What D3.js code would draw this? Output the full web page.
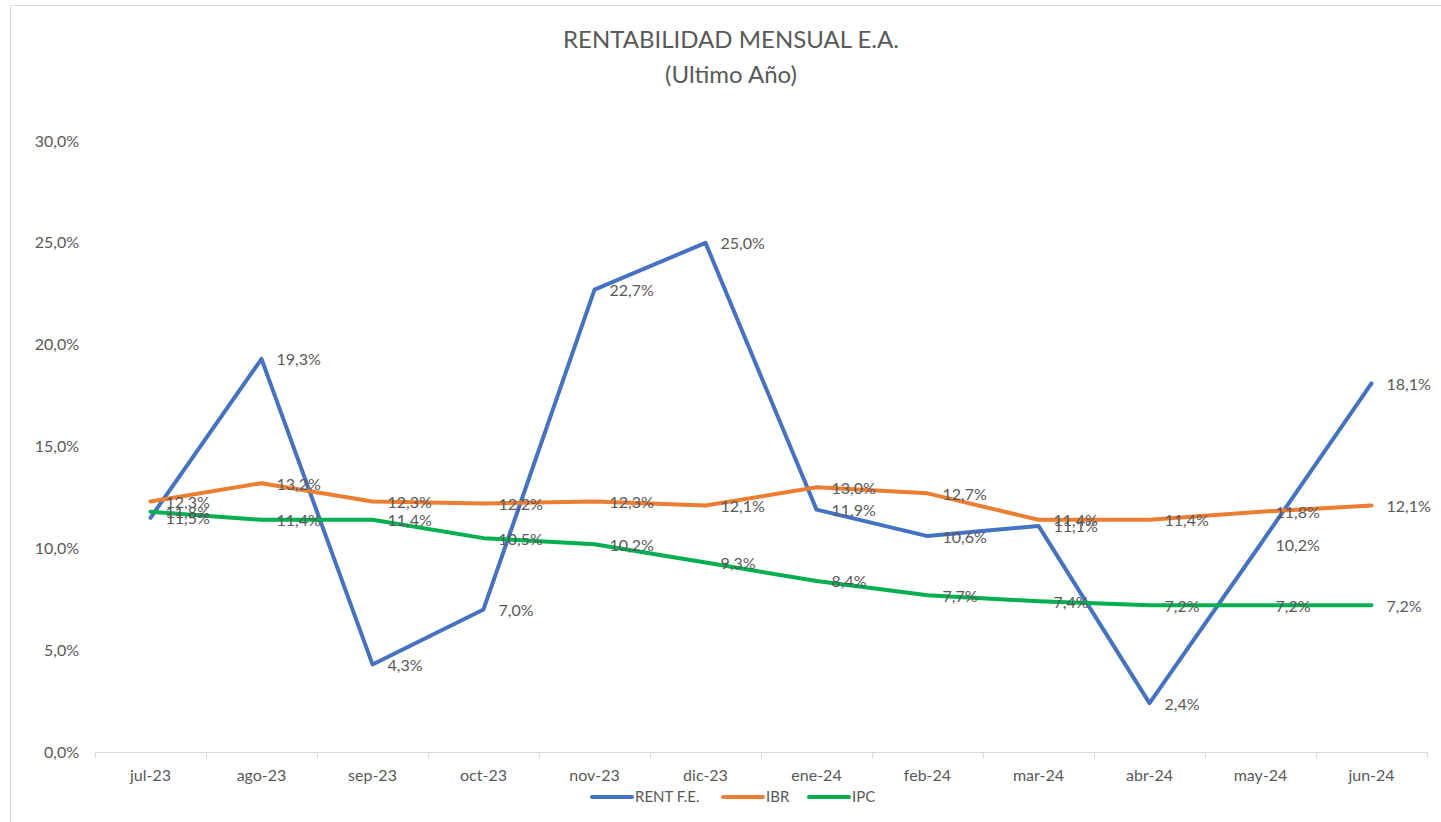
<!DOCTYPE html>
<html>
<head>
<meta charset="utf-8">
<script src="https://cdn.jsdelivr.net/npm/d3@7"></script>
<style>
  body { margin: 0; background: #fff; }
  text { font-family: Lato, "Open Sans", sans-serif; fill: #595959; }
</style>
</head>
<body>
<div id="chart"></div>
<script>
// chart data
var months = ["jul-23", "ago-23", "sep-23", "oct-23", "nov-23", "dic-23",
              "ene-24", "feb-24", "mar-24", "abr-24", "may-24", "jun-24"];
var rentFE = [11.5, 19.3, 4.3, 7.0, 22.7, 25.0, 11.9, 10.6, 11.1, 2.4, 10.2, 18.1];
var ibr    = [12.3, 13.2, 12.3, 12.2, 12.3, 12.1, 13.0, 12.7, 11.4, 11.4, 11.8, 12.1];
var ipc    = [11.8, 11.4, 11.4, 10.5, 10.2, 9.3, 8.4, 7.7, 7.4, 7.2, 7.2, 7.2];
var yTicks = [0, 5, 10, 15, 20, 25, 30];

var series = [
  { name: "RENT F.E.", values: rentFE, color: "#4472C4" },
  { name: "IBR", values: ibr, color: "#ED7D31" },
  { name: "IPC", values: ipc, color: "#00B050" }
];

var width = 1441, height = 822;
var margin = { top: 141, right: 14, bottom: 70, left: 95 };

var svg = d3.select("#chart").append("svg")
  .attr("width", width)
  .attr("height", height);

// outer frame
svg.append("rect")
  .attr("x", 10.5).attr("y", 5.5)
  .attr("width", width + 20).attr("height", height + 20)
  .attr("fill", "none")
  .attr("stroke", "#d9d9d9");

var fmt = function(v) { return d3.format(".1f")(v).replace(".", ",") + "%"; };

var x = d3.scaleBand()
  .domain(months)
  .range([margin.left, width - margin.right]);

var y = d3.scaleLinear()
  .domain([0, 30])
  .range([height - margin.bottom, margin.top]);

var cx = function(i) { return x(months[i]) + x.bandwidth() / 2; };

// title
svg.append("text")
  .attr("x", 731).attr("y", 48)
  .attr("text-anchor", "middle")
  .style("font-size", "24px")
  .text("RENTABILIDAD MENSUAL E.A.");
svg.append("text")
  .attr("x", 731).attr("y", 83)
  .attr("text-anchor", "middle")
  .style("font-size", "24px")
  .text("(Ultimo Año)");

// y axis labels (no line)
svg.append("g").selectAll("text")
  .data(yTicks).enter()
  .append("text")
    .attr("x", 79)
    .attr("y", function(d) { return y(d); })
    .attr("dy", "0.35em")
    .attr("text-anchor", "end")
    .style("font-size", "16px")
    .text(function(d) { return fmt(d); });

// x axis
var xAxis = svg.append("g")
  .attr("transform", "translate(0," + y(0) + ")");
xAxis.append("line")
  .attr("x1", margin.left).attr("x2", width - margin.right)
  .attr("y1", 0.5).attr("y2", 0.5)
  .attr("stroke", "#d9d9d9");
xAxis.selectAll(".tick")
  .data(months.concat(["end"])).enter()
  .append("line")
    .attr("x1", function(d, i) { return Math.round(margin.left + i * x.bandwidth()) + 0.5; })
    .attr("x2", function(d, i) { return Math.round(margin.left + i * x.bandwidth()) + 0.5; })
    .attr("y1", 0).attr("y2", 6)
    .attr("stroke", "#d9d9d9");
xAxis.selectAll(".lbl")
  .data(months).enter()
  .append("text")
    .attr("x", function(d, i) { return cx(i); })
    .attr("y", 29)
    .attr("text-anchor", "middle")
    .style("font-size", "16px")
    .text(function(d) { return d; });

// lines
var line = d3.line()
  .x(function(d, i) { return cx(i); })
  .y(function(d) { return y(d); });

svg.append("g").selectAll("path")
  .data(series).enter()
  .append("path")
    .attr("d", function(d) { return line(d.values); })
    .attr("fill", "none")
    .attr("stroke", function(d) { return d.color; })
    .attr("stroke-width", 4)
    .attr("stroke-linejoin", "round")
    .attr("stroke-linecap", "round");

// data labels, right of each point (overlaps kept as in original)
series.forEach(function(s) {
  svg.append("g").selectAll("text")
    .data(s.values).enter()
    .append("text")
      .attr("x", function(d, i) { return cx(i) + 15; })
      .attr("y", function(d) { return y(d); })
      .attr("dy", "0.4em")
      .style("font-size", "16px")
      .text(function(d) { return fmt(d); });
});

// legend
var legend = svg.append("g").attr("transform", "translate(0,797)");
var legX = [592, 723, 809];
series.forEach(function(s, i) {
  legend.append("line")
    .attr("x1", legX[i]).attr("x2", legX[i] + 40)
    .attr("y1", 0).attr("y2", 0)
    .attr("stroke", s.color)
    .attr("stroke-width", 4)
    .attr("stroke-linecap", "round");
  legend.append("text")
    .attr("x", legX[i] + 43)
    .attr("y", 0)
    .attr("dy", "0.35em")
    .style("font-size", "15px")
    .text(s.name);
});
</script>
</body>
</html>
